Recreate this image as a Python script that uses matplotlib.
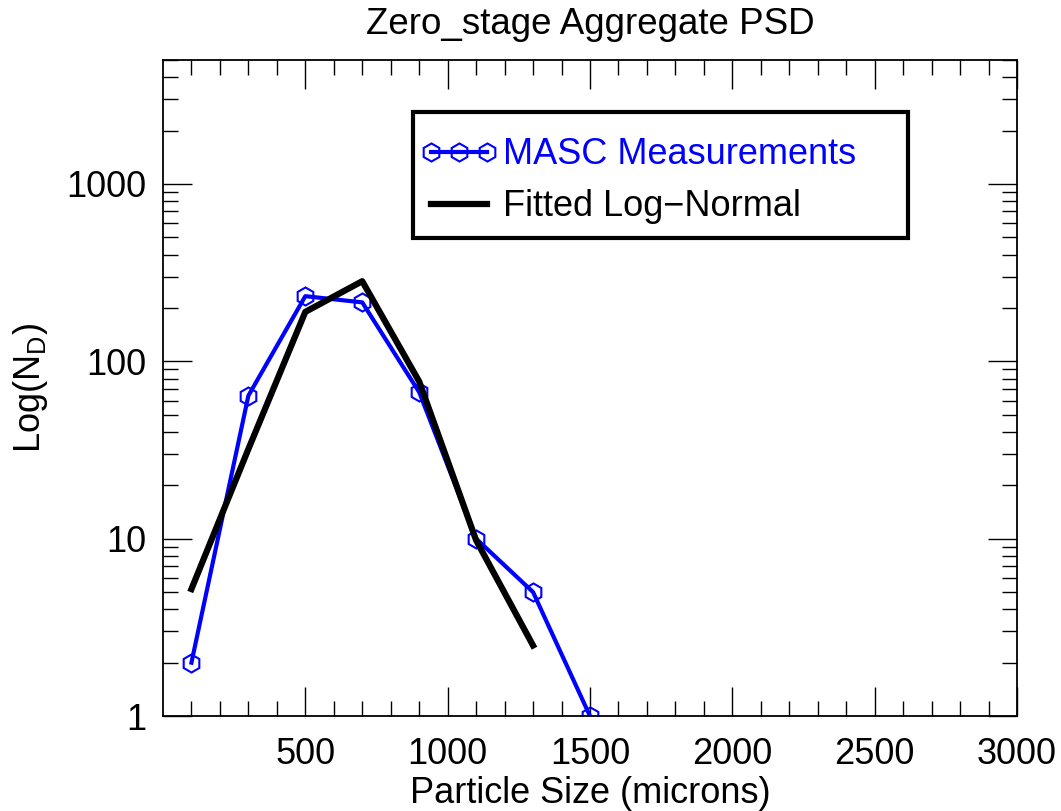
import numpy as np
import matplotlib.pyplot as plt
from matplotlib.patches import Rectangle
from matplotlib.ticker import FixedLocator, LogLocator, NullFormatter

plt.rcParams['font.family'] = ['Liberation Sans', 'DejaVu Sans']

# Data
size_masc = [100, 300, 500, 700, 900, 1100, 1300, 1500]
nd_masc = [2.0, 64, 233, 215, 67, 10, 5.0, 1.0]

size_fit = [100, 300, 500, 700, 900, 1100, 1300]
nd_fit = [5.2, 32, 190, 283, 77, 9.8, 2.5]

xticks = [500, 1000, 1500, 2000, 2500, 3000]
yticks = [1, 10, 100, 1000]

fig = plt.figure(figsize=(10.61, 8.11), dpi=100)
ax = fig.add_axes([0.1536, 0.1171, 0.8049, 0.8089])

ax.plot(size_masc, nd_masc, color='blue', lw=3, marker='h', ms=13,
        mfc='none', mec='blue', mew=1.5, label='MASC Measurements')
ax.plot(size_fit, nd_fit, color='black', lw=4.5, label='Fitted Log\u2212Normal')

ax.set_yscale('log')
ax.set_xlim(0, 3000)
ax.set_ylim(1, 5000)

ax.xaxis.set_major_locator(FixedLocator(xticks))
ax.xaxis.set_minor_locator(FixedLocator(np.arange(100, 3000, 100)))
ax.set_yticks(yticks)
ax.set_yticklabels([str(v) for v in yticks])
ax.yaxis.set_minor_locator(LogLocator(base=10, subs=np.arange(2, 10)))
ax.yaxis.set_minor_formatter(NullFormatter())

ax.tick_params(which='both', direction='in', top=True, right=True, width=1)
ax.tick_params(which='major', length=21, labelsize=26)
ax.tick_params(which='minor', length=11)
ax.tick_params(axis='x', which='major', pad=15)
ax.tick_params(axis='y', which='major', pad=12)
for s in ax.spines.values():
    s.set_linewidth(1.3)

ax.set_title('Zero_stage Aggregate PSD', fontsize=26.5, pad=19)
ax.set_xlabel('Particle Size (microns)', fontsize=26, labelpad=3)
ax.set_ylabel('Log(N$_\\mathregular{D}$)', fontsize=26, labelpad=12)

# legend box drawn separately (IDL style: wide box, handles near the left edge)
box = Rectangle((0.293, 0.729), 0.579, 0.192, transform=ax.transAxes,
                facecolor='white', edgecolor='black', lw=3, zorder=5)
ax.add_patch(box)
leg = ax.legend(loc='upper left', bbox_to_anchor=(0.301, 0.882), fontsize=26,
                numpoints=3, handlelength=2.15, handletextpad=0.15,
                borderpad=0, labelspacing=0.47, frameon=False, borderaxespad=0)
leg.set_zorder(6)
leg.get_texts()[0].set_color('blue')

fig.savefig('out.png', dpi=100)
